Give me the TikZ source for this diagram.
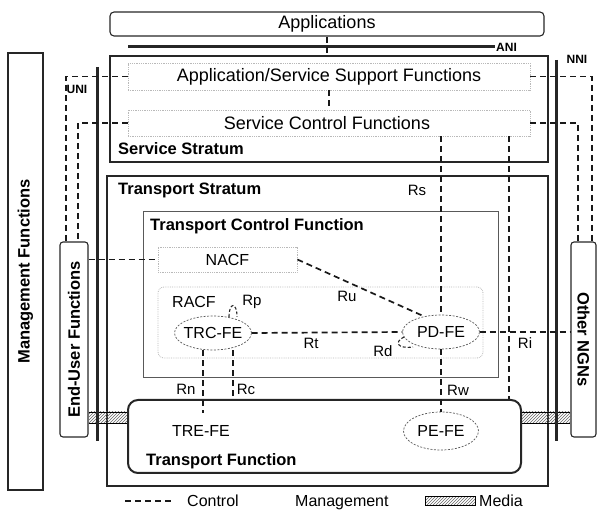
\documentclass[tikz,border=0pt]{standalone}
\usepackage{fontspec}
\setmainfont{Liberation Sans}
\usetikzlibrary{patterns,calc}
\begin{document}
\tikzset{
  box/.style={draw=black!85, line width=1.1pt, inner sep=0pt},
  faint/.style={draw=gray!55, densely dotted, line width=0.8pt, inner sep=0pt},
  ctl/.style={draw=black!90, line width=1.7pt, dash pattern=on 6pt off 4pt},
  ctlsmall/.style={draw=black!85, line width=1.1pt, dash pattern=on 3pt off 2pt},
  iline/.style={draw=black!85, line width=3pt},
  big/.style={font=\fontsize{18}{20}\selectfont},
  bb/.style={font=\bfseries\fontsize{16.5}{18}\selectfont, inner sep=0pt},
  fe/.style={font=\fontsize{16}{18}\selectfont, inner sep=0pt},
  feel/.style={draw=black!65, dash pattern=on 2pt off 1.5pt, line width=0.7pt},
  rl/.style={font=\fontsize{15}{17}\selectfont, inner sep=1pt},
  iface/.style={font=\bfseries\fontsize{12}{14}\selectfont, inner sep=1pt},
  lg/.style={font=\fontsize{16}{18}\selectfont, inner sep=0pt},
  hatch/.style={pattern=north east lines, pattern color=black!60},
}
\begin{tikzpicture}[x=1pt,y=-1pt]
\useasboundingbox (0,0) rectangle (598,518);

% ---- main boxes
\node[box, rounded corners=4pt, minimum width=434pt, minimum height=24pt, big] (app) at (327,24) {Applications};
\node[box, minimum width=438pt, minimum height=106pt] (ss) at (329,109) {};
\node[bb, anchor=west] (sslbl) at (118,149) {Service Stratum};
\node[faint, minimum width=402pt, minimum height=27pt] (asf) at (329,76.5) {};
\node[big] (asftxt) at (asf.center) {Application/Service Support Functions};
\node[faint, minimum width=402pt, minimum height=26pt] (scf) at (329,123) {};
\node[big] (scftxt) at (327,123) {Service Control Functions};

\node[box, minimum width=441pt, minimum height=310pt] (ts) at (327.5,331) {};
\node[bb, anchor=west] (tslbl) at (118,190) {Transport Stratum};

\node[draw=gray!70!black, line width=0.6pt, minimum width=355pt, minimum height=166pt, inner sep=0pt] (tcf) at (320.5,294) {};
\node[bb, anchor=west] (tcflbl) at (150,226) {Transport Control Function};
\node[faint, minimum width=139pt, minimum height=25pt, fe] (nacf) at (227.5,259.5) {NACF};
\node[faint, rounded corners=6pt, minimum width=325pt, minimum height=71pt] (racf) at (320.5,322.5) {};
\node[fe, anchor=west] (racflbl) at (172,302) {RACF};

\node[fe, minimum width=77pt, minimum height=34pt] (trc) at (213,333) {TRC-FE};
\draw[feel] (trc.center) ellipse [x radius=38.5pt, y radius=17pt];
\node[fe, minimum width=77pt, minimum height=34pt] (pd) at (441,332) {PD-FE};
\draw[feel] (pd.center) ellipse [x radius=38.5pt, y radius=17pt];

\node[draw=black!85, line width=2pt, rounded corners=10pt, minimum width=393pt, minimum height=73pt, inner sep=0pt] (tf) at (324.5,436.5) {};
\node[bb, anchor=west] (tflbl) at (146,461) {Transport Function};
\node[fe] (tre) at (201,431) {TRE-FE};
\node[fe, minimum width=75pt, minimum height=38pt] (pe) at (441,431) {PE-FE};
\draw[feel] (pe.center) ellipse [x radius=37.5pt, y radius=19pt];

% ---- side boxes
\node[box, minimum width=35pt, minimum height=437pt] (mg) at (25.5,271.5) {};
\node[bb, rotate=90] (mgtxt) at (mg.center) {Management Functions};
\node[box, rounded corners=3pt, minimum width=28pt, minimum height=195pt] (eu) at (74,339.5) {};
\node[bb, rotate=90] (eutxt) at (eu.center) {End-User Functions};
\node[box, rounded corners=3pt, minimum width=25pt, minimum height=195pt] (ngn) at (583.5,339.5) {};
\node[bb, rotate=-90] (ngntxt) at (ngn.center) {Other NGNs};

% ---- media bands
\fill[hatch] (eu.east |- 0,412) rectangle (tf.west |- 0,423);
\draw[line width=0.9pt] (eu.east |- 0,412) -- (tf.west |- 0,412) (eu.east |- 0,423) -- (tf.west |- 0,423);
\fill[hatch] (tf.east |- 0,412) rectangle (ngn.west |- 0,423);
\draw[line width=0.9pt] (tf.east |- 0,412) -- (ngn.west |- 0,412) (tf.east |- 0,423) -- (ngn.west |- 0,423);

% ---- interface lines
\coordinate (aniL) at (128,47); \coordinate (aniR) at (495,47);
\draw[iline] (aniL) -- (aniR);
\node[iface, anchor=west] (ani) at (aniR) {ANI};
\coordinate (uniT) at (97,67); \coordinate (uniB) at (97,441);
\draw[iline] (uniT) -- (uniB);
\node[iface] (uni) at (77,89) {UNI};
\coordinate (nniT) at (556,60); \coordinate (nniB) at (556,441);
\draw[iline] (nniT) -- (nniB);
\node[iface] (nni) at (577,59) {NNI};

% ---- control connectors
\draw[ctl] (app.south) -- (app.south |- ss.north);
\draw[ctl] (asf.south) -- (scf.north);
\draw[ctl] (asf.west) -| ([xshift=-8pt]eu.north);
\draw[ctl] (scf.west) -| ([xshift=4pt]eu.north);
\draw[ctl] (asf.east) -| ([xshift=8.5pt]ngn.north);
\draw[ctl] (scf.east) -| ([xshift=-5.5pt]ngn.north);
\draw[ctl] (eu.east |- nacf.west) -- (nacf.west);

\draw[ctl] (scf.south -| pd.north) -- (pd.north);
\node[rl] (rs) at (417,190) {Rs};
\coordinate (mx) at (509,0);
\draw[ctl] (scf.south -| mx) -- (tf.north -| mx);

\draw[ctl] (nacf.east) -- ($(pd.north)+(-16,2)$);
\node[rl] (ru) at (347,296) {Ru};
\draw[ctl] (trc.east) -- (pd.west);
\node[rl] (rt) at (311,343) {Rt};
\draw[ctl] (pd.east) -- (ngn.west |- pd.east);
\node[rl] (ri) at (525,343) {Ri};

\draw[ctlsmall] ($(trc.north)+(16,1)$) .. controls +(0,-15) and +(0,-15) .. ($(trc.north)+(24,1)$);
\node[rl] (rp) at (252,302) {Rp};
\draw[ctlsmall] ($(pd.center)+(-37,5)$) .. controls ($(pd.center)+(-47,10)$) and ($(pd.center)+(-44,17)$) .. ($(pd.center)+(-28,15)$);
\node[rl] (rd) at (383,351) {Rd};

\coordinate (rn) at (203,413);
\draw[ctl] (trc.south -| rn) -- (rn);
\node[rl] (rnl) at (186,389) {Rn};
\coordinate (rc) at (233,0);
\draw[ctl] (trc.south -| rc) -- (tf.north -| rc);
\node[rl] (rcl) at (246,389) {Rc};
\draw[ctl] (pd.south) -- (pe.north);
\node[rl] (rw) at (458,390) {Rw};

% ---- legend
\coordinate (lg1) at (125,501); \coordinate (lg2) at (172,501);
\draw[ctl] (lg1) -- (lg2);
\node[lg, anchor=base west] (lgc) at (187,507) {Control};
\node[lg, anchor=base west] (lgm) at (295,507) {Management};
\node[draw, line width=0.9pt, hatch, minimum width=50pt, minimum height=9pt, inner sep=0pt] (lgh) at (450,501) {};
\node[lg, anchor=base west] (lgmd) at (479,507) {Media};
\end{tikzpicture}
\end{document}
